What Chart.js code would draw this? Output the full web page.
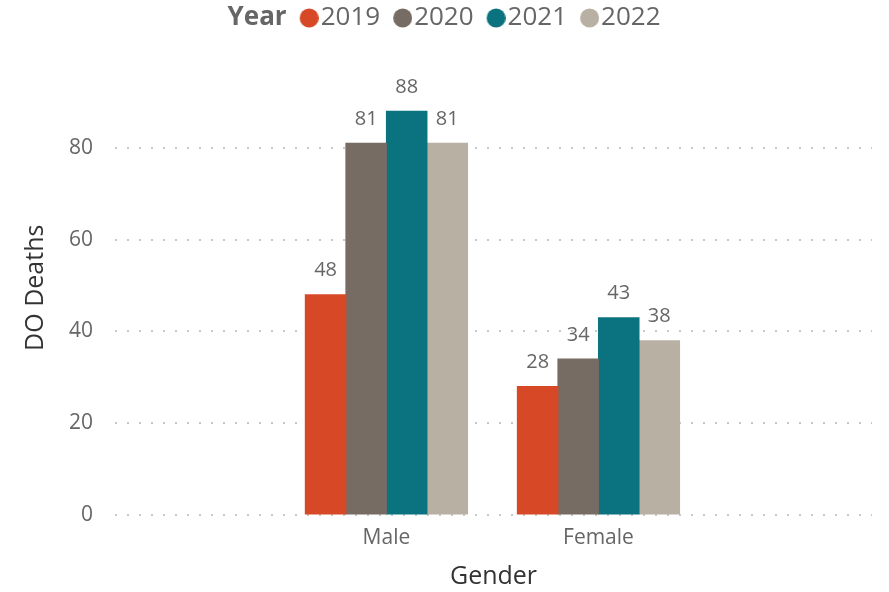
<!DOCTYPE html>
<html>
<head>
<meta charset="utf-8">
<title>DO Deaths by Gender</title>
<script src="https://cdn.jsdelivr.net/npm/chart.js@4.4.1/dist/chart.umd.min.js"></script>
<style>
  body { margin: 0; background: #fff; }
</style>
</head>
<body>
<canvas id="deathsChart" width="889" height="592"></canvas>
<script>
// Values
const genders = ['Male', 'Female'];
const years = ['2019', '2020', '2021', '2022'];
const deaths2019 = [48, 28];
const deaths2020 = [81, 34];
const deaths2021 = [88, 43];
const deaths2022 = [81, 38];
const yTicks = [0, 20, 40, 60, 80];

const seriesValues = [deaths2019, deaths2020, deaths2021, deaths2022];
const seriesColors = ['#D64826', '#766C64', '#0B7380', '#B8B0A3'];

const FONT = '"Open Sans", "Noto Sans", sans-serif';
const ctx = document.getElementById('deathsChart').getContext('2d');

// legend dot on its own little canvas, so it can sit close to the text
function legendDot(color) {
    const c = document.createElement('canvas');
    c.width = 30;
    c.height = 20;
    if (color) {
        const g = c.getContext('2d');
        g.fillStyle = color;
        g.beginPath();
        g.arc(20.5, 10, 9.5, 0, Math.PI * 2);
        g.fill();
    }
    return c;
}

// bold "Year" in front of the legend items (drawn over the blank first item)
const yearTitle = {
    id: 'yearTitle',
    afterDraw(chart) {
        const box = chart.legend.legendHitBoxes[0];
        const c = chart.ctx;
        c.save();
        c.font = 'bold 26px ' + FONT;
        c.fillStyle = '#666';
        c.textAlign = 'right';
        c.textBaseline = 'middle';
        c.fillText('Year', box.left + box.width, box.top + box.height / 2);
        c.restore();
    }
};

// value above each bar
const valueLabels = {
    id: 'valueLabels',
    afterDatasetsDraw(chart) {
        const c = chart.ctx;
        c.save();
        c.font = '20px ' + FONT;
        c.fillStyle = '#666';
        c.textAlign = 'center';
        c.textBaseline = 'middle';
        chart.data.datasets.forEach((ds, i) => {
            chart.getDatasetMeta(i).data.forEach((bar, j) => {
                c.fillText(ds.data[j], bar.x, bar.y - 24);
            });
        });
        c.restore();
    }
};

const deathsChart = new Chart(ctx, {
    type: 'bar',
    data: {
        labels: genders.map((g, i) => i),
        datasets: years.map((year, i) => ({
            label: year,
            data: seriesValues[i],
            backgroundColor: seriesColors[i],
            categoryPercentage: 0.765,
            barPercentage: 1,
            inflateAmount: 0.5
        }))
    },
    options: {
        responsive: false,
        animation: false,
        events: [],
        layout: { padding: { top: -8, right: 17, left: 0, bottom: 0 } },
        plugins: {
            tooltip: { enabled: false },
            legend: {
                position: 'top',
                onClick: null,
                labels: {
                    font: { size: 26, family: FONT },
                    color: '#666',
                    padding: 13,
                    usePointStyle: true,
                    pointStyleWidth: 8,
                    boxHeight: 8,
                    generateLabels: function(chart) {
                        const items = [{
                            text: 'Year',
                            pointStyle: legendDot(null),
                            fontColor: 'rgba(0,0,0,0)',
                            fillStyle: 'rgba(0,0,0,0)',
                            strokeStyle: 'rgba(0,0,0,0)',
                            lineWidth: 0,
                            hidden: false,
                            datasetIndex: -1
                        }];
                        chart.data.datasets.forEach((ds, i) => {
                            items.push({
                                text: ds.label,
                                pointStyle: legendDot(ds.backgroundColor),
                                fontColor: '#666',
                                fillStyle: ds.backgroundColor,
                                strokeStyle: ds.backgroundColor,
                                lineWidth: 0,
                                hidden: false,
                                datasetIndex: i
                            });
                        });
                        return items;
                    }
                }
            }
        },
        scales: {
            x: {
                type: 'linear',
                offset: false,
                min: -1.28,
                max: 2.29,
                afterBuildTicks: function(scale) {
                    scale.ticks = genders.map((g, i) => ({ value: i }));
                },
                afterFit: function(scale) {
                    scale.height = 77;
                },
                grid: { display: false, drawTicks: false },
                border: { display: false },
                ticks: {
                    padding: 10,
                    maxRotation: 0,
                    color: '#666',
                    font: { size: 21, family: FONT },
                    callback: function(value) {
                        return genders[value];
                    }
                },
                title: {
                    display: true,
                    text: 'Gender',
                    color: '#333',
                    font: { size: 25, family: FONT },
                    padding: 0
                }
            },
            y: {
                min: 0,
                max: 103.3,
                afterBuildTicks: function(scale) {
                    scale.ticks = yTicks.map(v => ({ value: v }));
                },
                afterFit: function(scale) {
                    scale.width = 115;
                },
                grid: { color: '#C8C8C8', lineWidth: 2, drawTicks: false },
                border: { display: false, dash: [2, 10] },
                ticks: {
                    padding: 22,
                    color: '#666',
                    font: { size: 21, family: FONT }
                },
                title: {
                    display: true,
                    // trailing spaces nudge the title down a little, like the original
                    text: 'DO Deaths\u00A0\u00A0\u00A0',
                    color: '#333',
                    font: { size: 25, family: FONT },
                    padding: { top: 21, bottom: 0 }
                }
            }
        }
    },
    plugins: [yearTitle, valueLabels]
});
</script>
</body>
</html>
